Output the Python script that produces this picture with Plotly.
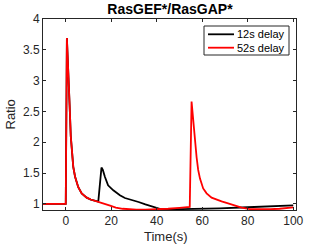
import plotly.graph_objects as go

# 52s delay (red)
red_t = [-10, 0, 0.5, 1.2, 1.7, 2.2, 2.7, 3.3, 4.1, 5.5, 7, 9.2, 11, 13.6, 16, 19.5, 22, 25, 28,
         31, 35, 40, 45, 50, 54.5, 55.3, 56.0, 56.8, 57.5, 58.2, 59, 60.4, 61.9, 64.1, 66, 68.5,
         71, 74.4, 77.3, 80.9, 85.3, 90, 94, 100]
red_v = [1.0, 1.0, 3.69, 3.15, 2.6, 2.1, 1.85, 1.6, 1.44, 1.27, 1.17, 1.10, 1.07, 1.045, 1.01,
         0.97, 0.94, 0.92, 0.91, 0.905, 0.905, 0.91, 0.92, 0.935, 0.95, 2.66, 2.35, 2.03, 1.76,
         1.55, 1.41, 1.25, 1.17, 1.10, 1.07, 1.04, 1.01, 0.97, 0.94, 0.915, 0.91, 0.912, 0.92,
         0.943]

# 12s delay (black)
blk_t = [-10, 0, 0.5, 1.2, 1.7, 2.2, 2.7, 3.3, 4.1, 5.5, 7, 9.2, 11, 13.6, 14.3, 15.7, 16.3,
         17.2, 18.6, 20.9, 23.8, 26, 29, 32, 35, 37.7, 40, 42, 45, 55, 67.7, 80, 90, 100]
blk_v = [1.0, 1.0, 3.69, 3.15, 2.6, 2.1, 1.85, 1.6, 1.44, 1.27, 1.17, 1.10, 1.07, 1.045, 1.035,
         1.59, 1.55, 1.44, 1.30, 1.22, 1.14, 1.095, 1.065, 1.03, 0.99, 0.96, 0.925, 0.912, 0.91,
         0.915, 0.927, 0.945, 0.96, 0.975]

series_names = ["12s delay", "52s delay"]
series_colors = ["black", "#ff0000"]

x_ticks = [0, 20, 40, 60, 80, 100]
y_ticks = [1, 1.5, 2, 2.5, 3, 3.5, 4]
y_tick_text = ["1", "1.5", "2", "2.5", "3", "3.5", "4"]

W, H = 327, 245
L, R, T, B = 43, 31, 19, 35
PW, PH = W - L - R, H - T - B

def px(xp):
    return (xp - L) / PW

def py(yp):
    return (H - B - yp) / PH

axc = "#262626"
fig = go.Figure()
fig.add_trace(go.Scatter(x=blk_t, y=blk_v, mode="lines", name=series_names[0],
                         line=dict(color=series_colors[0], width=1.8)))
fig.add_trace(go.Scatter(x=red_t, y=red_v, mode="lines", name=series_names[1],
                         line=dict(color=series_colors[1], width=1.8)))

# manual legend box (MATLAB style)
shapes = [dict(type="rect", xref="paper", yref="paper", x0=px(204), x1=px(289),
               y0=py(55), y1=py(26), line=dict(color=axc, width=1), fillcolor="white",
               layer="above")]
annotations = []
for i, (nm, col) in enumerate(zip(series_names, series_colors)):
    yy = 34.3 + i * 13.4
    shapes.append(dict(type="line", xref="paper", yref="paper", x0=px(208), x1=px(234),
                       y0=py(yy), y1=py(yy), line=dict(color=col, width=1.8), layer="above"))
    annotations.append(dict(text=nm, x=px(235), y=py(yy), xref="paper", yref="paper",
                            xanchor="left", yanchor="middle", showarrow=False,
                            font=dict(size=11, color="black")))

annotations += [
    dict(text="Time(s)", x=px(166), y=py(236.5), xref="paper", yref="paper",
         xanchor="center", yanchor="middle", showarrow=False,
         font=dict(size=13, color=axc)),
    dict(text="Ratio", x=px(10), y=py(114.5), xref="paper", yref="paper",
         xanchor="center", yanchor="middle", showarrow=False, textangle=-90,
         font=dict(size=13, color=axc)),
]

fig.update_layout(
    width=W, height=H,
    margin=dict(l=L, r=R, t=T, b=B, autoexpand=False),
    paper_bgcolor="white", plot_bgcolor="white",
    font=dict(family="Liberation Sans, Arial, sans-serif", size=12, color=axc),
    title=dict(text="<b>RasGEF*/RasGAP*</b>", x=170 / W, xanchor="center",
               y=1 - 9 / H, yanchor="middle",
               font=dict(size=14, color="black")),
    showlegend=False,
    xaxis=dict(range=[-10, 101.2], tickvals=x_ticks, ticks="inside", ticklen=3,
               tickcolor=axc, showline=True, linecolor=axc, linewidth=1, mirror="ticks",
               showgrid=False, zeroline=False, automargin=False),
    yaxis=dict(range=[0.9, 4], tickvals=y_ticks, ticktext=y_tick_text, ticks="inside",
               ticklen=3, tickcolor=axc, showline=True, linecolor=axc, linewidth=1,
               mirror="ticks", showgrid=False, zeroline=False, automargin=False),
    shapes=shapes,
    annotations=annotations,
)
fig.write_html("out.html", config={"displayModeBar": False},
               post_script="document.body.style.margin='0';")
